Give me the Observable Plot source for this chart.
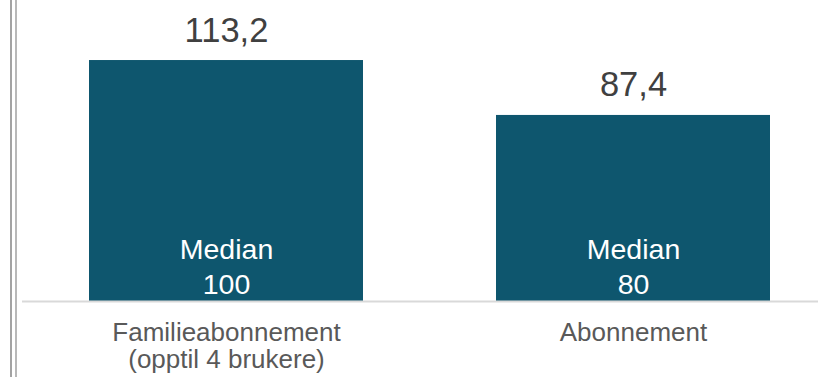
<!DOCTYPE html>
<html>
<head>
<meta charset="utf-8">
<script src="https://cdn.jsdelivr.net/npm/d3@7"></script>
<script src="https://cdn.jsdelivr.net/npm/@observablehq/plot@0.6"></script>
<style>
  html, body { margin: 0; padding: 0; background: #fff; }
  #wrap { position: relative; width: 818px; height: 377px; overflow: hidden; }
  .vline { position: absolute; top: 0; height: 377px; width: 2px; }
  #chart svg { display: block; }
</style>
</head>
<body>
<div id="wrap">
  <div class="vline" style="left:10px; background:#a3a3a3;"></div>
  <div class="vline" style="left:15px; background:#b8b8b8;"></div>
  <div id="chart"></div>
</div>
<script>
const categories = ["Familieabonnement\n(opptil 4 brukere)", "Abonnement"];
const means = [113.2, 87.4];
const medians = [100, 80];
const meanLabels = ["113,2", "87,4"];

const data = categories.map((c, i) => ({
  cat: c,
  mean: means[i],
  median: medians[i],
  meanLabel: meanLabels[i],
  medianLabel: "Median\n" + medians[i]
}));

const chart = Plot.plot({
  width: 818,
  height: 377,
  marginLeft: 22,
  marginRight: 0,
  marginTop: 0,
  marginBottom: 76,
  style: { fontFamily: "'Liberation Sans', Arial, sans-serif", background: "transparent" },
  x: { domain: categories, paddingInner: 0.328, paddingOuter: 0.14, align: 0.58, label: null },
  y: { domain: [0, 141.4], axis: null },
  marks: [
    Plot.barY(data, { x: "cat", y: "mean", fill: "#0e566e" }),
    Plot.ruleY([0], { stroke: "#d9d9d9", strokeWidth: 2 }),
    Plot.text(data, {
      x: "cat", y: "mean", text: "meanLabel",
      lineAnchor: "bottom", dy: -19, fontSize: 34.5, fill: "#404040"
    }),
    Plot.text(data, {
      x: "cat", y: 0, text: "medianLabel",
      lineAnchor: "bottom", dy: -7.5, fontSize: 28.5, lineHeight: 1.22, fill: "#ffffff"
    }),
    Plot.axisX({
      tickSize: 0, tickPadding: 20, fontSize: 26, lineAnchor: "top",
      lineHeight: 1.04, fill: "#595959", label: null
    })
  ]
});
document.getElementById("chart").appendChild(chart);
</script>
</body>
</html>
